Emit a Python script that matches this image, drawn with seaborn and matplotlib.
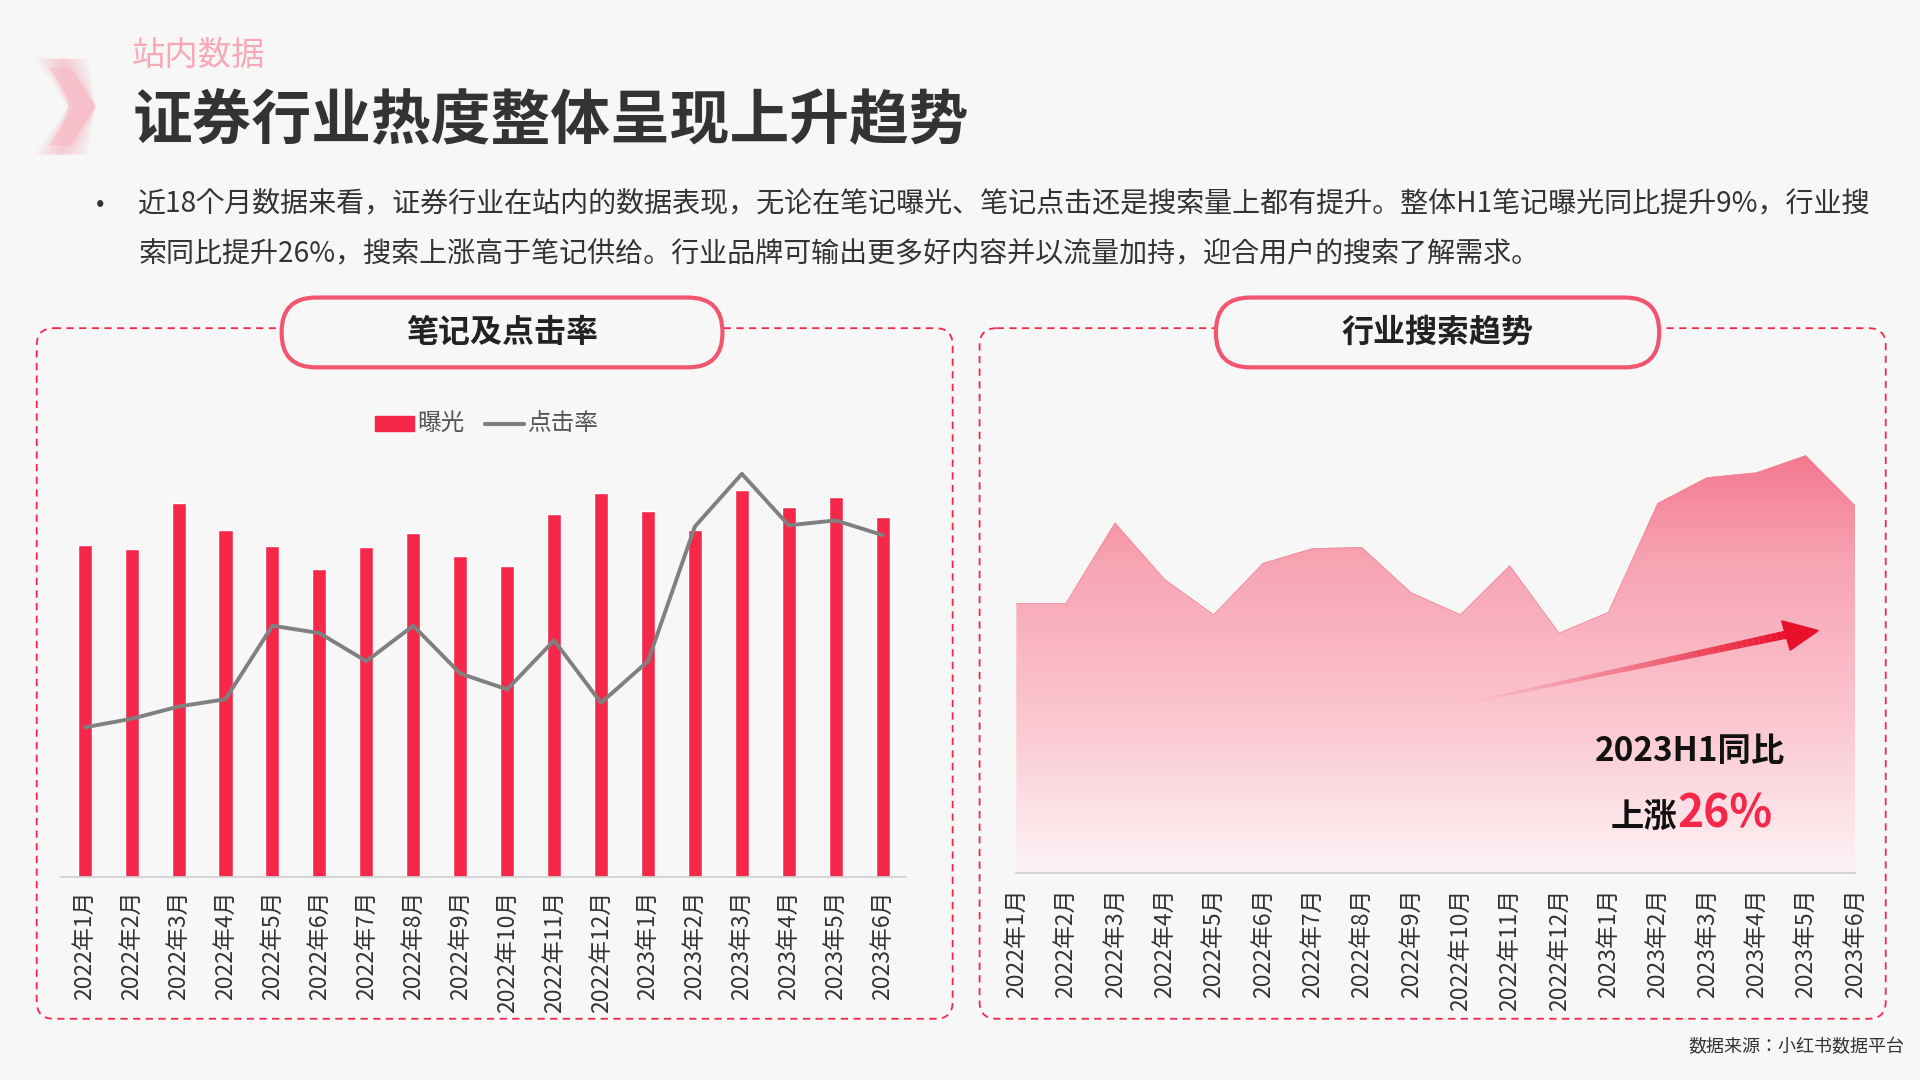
import numpy as np
import pandas as pd
import matplotlib
matplotlib.use("Agg")
import matplotlib.pyplot as plt
from matplotlib import font_manager as fm
import seaborn as sns
from matplotlib.patches import FancyBboxPatch, Polygon
from matplotlib.colors import LinearSegmentedColormap

# find a CJK font (register system files if matplotlib's cache lacks them)
for f in fm.findSystemFonts():
    if "cjk" in f.lower():
        try:
            fm.fontManager.addfont(f)
        except Exception:
            pass
cjk = [f.name for f in fm.fontManager.ttflist if "CJK" in f.name]
FONT = "Noto Sans CJK SC" if "Noto Sans CJK SC" in cjk else (cjk[0] if cjk else "DejaVu Sans")

sns.set_theme(style="white", font=FONT)
plt.rcParams["font.family"] = FONT
plt.rcParams["font.sans-serif"] = [FONT, "DejaVu Sans"]
plt.rcParams["axes.unicode_minus"] = False

# ------------------------------------------------------------
# data (arbitrary units)
# ------------------------------------------------------------
months = ["2022年1月", "2022年2月", "2022年3月", "2022年4月", "2022年5月", "2022年6月",
          "2022年7月", "2022年8月", "2022年9月", "2022年10月", "2022年11月", "2022年12月",
          "2023年1月", "2023年2月", "2023年3月", "2023年4月", "2023年5月", "2023年6月"]
exposure = [271, 268, 305, 283, 270, 251, 269, 281, 262, 254, 296, 313, 299, 283, 316, 302, 310, 294]
ctr = [122, 129, 139, 145, 205, 199, 176, 205, 166, 153, 193, 142, 176, 286, 329, 287, 291, 279]
search = [220, 220, 286, 240, 211, 253, 265, 266, 229, 211, 251, 196, 213, 302, 323, 327, 341, 300]

RED = "#f5284a"
W, H = 1568, 882

def fx(x): return x / W
def fy(y): return 1 - y / H

fig = plt.figure(figsize=(19.2, 10.8), dpi=100)
fig.patch.set_facecolor("#f7f7f7")
bg = fig.add_axes([0, 0, 1, 1]); bg.set_xlim(0, W); bg.set_ylim(H, 0); bg.axis("off")
bg.set_facecolor("none")

# header chevron
for i in range(12):
    bg.add_patch(Polygon([[28 + i * 2, 48], [50 + i * 2, 48], [78, 87], [50 + i * 2, 126], [28 + i * 2, 126], [56, 87]],
                         closed=True, color="#f5a0b0", alpha=0.05, lw=0))
bg.add_patch(Polygon([[40, 55], [58, 55], [78, 87], [58, 119], [40, 119], [60, 87]], closed=True,
                     color="#f7b8c4", alpha=0.6, lw=0))
bg.text(108, 45, "站内数据", fontsize=24, color="#f7a9b8", va="center")
bg.text(108, 100, "证券行业热度整体呈现上升趋势", fontsize=43, color="#333333", va="center", fontweight="bold")
bg.text(78, 167, "•", fontsize=18, color="#333", va="center")
bg.text(113, 167, "近18个月数据来看，证券行业在站内的数据表现，无论在笔记曝光、笔记点击还是搜索量上都有提升。整体H1笔记曝光同比提升9%，行业搜",
        fontsize=20.2, color="#333", va="center")
bg.text(113, 208, "索同比提升26%，搜索上涨高于笔记供给。行业品牌可输出更多好内容并以流量加持，迎合用户的搜索了解需求。",
        fontsize=20.2, color="#333", va="center")
bg.text(1555, 855, "数据来源：小红书数据平台", fontsize=13, color="#333", ha="right", va="center")

# boxes + pill titles
for x0, x1, px0, px1, title in [(30, 778, 230, 590, "笔记及点击率"), (800, 1540, 993, 1355, "行业搜索趋势")]:
    bg.add_patch(FancyBboxPatch((x0, 268), x1 - x0, 832 - 268, boxstyle="round,pad=0,rounding_size=14",
                                fill=False, ec=RED, lw=1.3, ls=(0, (4, 3))))
    bg.add_patch(FancyBboxPatch((px0, 243), px1 - px0, 57, boxstyle="round,pad=0,rounding_size=28",
                                fc="#f7f7f7", ec="#f3556f", lw=3, zorder=3))
    bg.text((px0 + px1) / 2, 272, title, fontsize=23, fontweight="bold", color="#222", ha="center",
            va="center", zorder=4)

# ------------------------------------------------------------
# left chart: bars + line
# ------------------------------------------------------------
df = pd.DataFrame({"month": months, "exposure": exposure, "ctr": ctr})
ax = fig.add_axes([fx(50), fy(716), fx(740) - fx(50), fy(376) - fy(716)])
ax.set_facecolor("none")
sns.barplot(data=df, x="month", y="exposure", color=RED, width=0.3, ax=ax, saturation=1)
ax2 = ax.twinx()
sns.lineplot(x=np.arange(len(months)), y=df["ctr"], color="#808080", lw=2.8, ax=ax2)
for a in (ax, ax2):
    a.set_ylim(0, 340)
    a.set_ylabel("")
    a.set_yticks([])
    for s in a.spines.values():
        s.set_visible(False)
ax.set_xlim(-0.5, 17.5)
ax.spines["bottom"].set_visible(True)
ax.spines["bottom"].set_color("#d0d0d0")
ax.set_xlabel("")
ax.tick_params(axis="x", labelrotation=90, labelsize=16.5, colors="#333", length=0, pad=10)
# legend
bg.add_patch(plt.Rectangle((306, 340), 32, 12, color=RED))
bg.text(341, 346, "曝光", fontsize=17, color="#555", va="center")
bg.plot([396, 428], [346, 346], color="#808080", lw=3)
bg.text(431, 346, "点击率", fontsize=17, color="#555", va="center")

# ------------------------------------------------------------
# right chart: gradient area
# ------------------------------------------------------------
axr = fig.add_axes([fx(830), fy(713), fx(1515) - fx(830), fy(333) - fy(713)])
axr.set_facecolor("none")
xs = np.arange(len(months))
sns.lineplot(x=xs, y=search, color="#f57a90", lw=0.5, ax=axr)
cmap = LinearSegmentedColormap.from_list("g", ["#fdf3f5", "#fbc6d0", "#f7a4b3", "#f2667f"])
grad = np.linspace(0, 1, 256).reshape(-1, 1)
im = axr.imshow(grad, extent=[0, 17, 0, 380], origin="lower", aspect="auto", cmap=cmap, zorder=1)
poly = Polygon(np.column_stack([np.r_[0, xs, 17], np.r_[0, search, 0]]), closed=True,
               transform=axr.transData, fc="none", ec="none")
axr.add_patch(poly)
im.set_clip_path(poly)
axr.set_xlim(0, 17)
axr.set_ylim(0, 380)
axr.set_xticks(xs)
axr.set_xticklabels(months)
axr.set_yticks([])
for s in axr.spines.values():
    s.set_visible(False)
axr.spines["bottom"].set_visible(True)
axr.spines["bottom"].set_color("#d0d0d0")
axr.tick_params(axis="x", labelrotation=90, labelsize=16.5, colors="#333", length=5, color="#d0d0d0", pad=6)

# overlay for annotations on top of the area
top = fig.add_axes([0, 0, 1, 1]); top.set_xlim(0, W); top.set_ylim(H, 0); top.axis("off")
top.set_facecolor("none")
n = 60
ax0, ay0, ax1, ay1 = 1180, 578, 1460, 518
for i in range(n):
    t0, t1 = i / n, (i + 1) / n
    top.plot([ax0 + (ax1 - ax0) * t0, ax0 + (ax1 - ax0) * t1], [ay0 + (ay1 - ay0) * t0, ay0 + (ay1 - ay0) * t1],
             color="#e8102a", alpha=t1 ** 1.5, lw=1 + 5 * t1, solid_capstyle="butt")
top.add_patch(Polygon([[1455, 507], [1485, 515], [1462, 531]], closed=True, color="#e8102a"))
top.text(1380, 614, "2023H1同比", fontsize=24, fontweight="bold", color="#111", ha="center", va="center")
top.text(1370, 668, "上涨", fontsize=24, fontweight="bold", color="#111", ha="right", va="center")
top.text(1370, 665, "26%", fontsize=32, fontweight="bold", color=RED, ha="left", va="center")

fig.savefig("out.png", dpi=100, facecolor=fig.get_facecolor())
